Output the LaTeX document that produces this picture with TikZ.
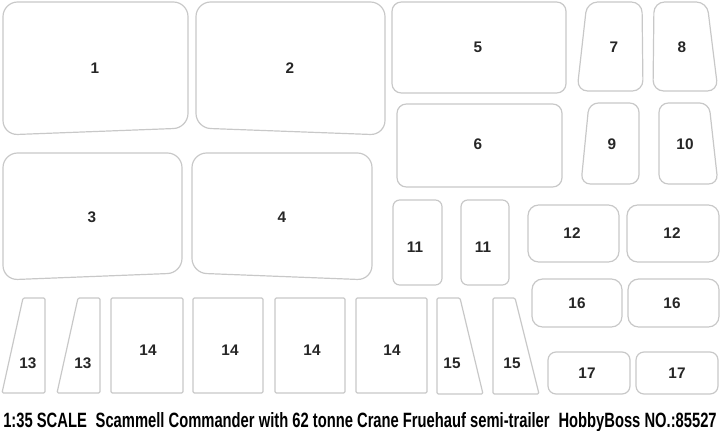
\documentclass[tikz,border=0pt]{standalone}
\usepackage{fontspec}
\setmainfont{Liberation Sans}
\usepackage{graphicx}
\usepackage{tikz}
\definecolor{maskgray}{RGB}{200,200,200}

\begin{document}
\begin{tikzpicture}[x=0.75pt,y=0.75pt,yscale=-1,xscale=1,
    mask/.style={draw=maskgray, line width=0.9pt, line join=round},
    num/.style={inner sep=0.75pt, font=\fontsize{11.5}{13}\selectfont\bfseries, text=black!85}]

            \useasboundingbox (0,0) rectangle (720,431);

            % Large masks
            \draw [mask, rounded corners=11pt] (3,2) -- (188,2) -- (188,128) -- (3,135) -- cycle;
            \draw [mask, rounded corners=11pt] (196,2) -- (385,2) -- (385,135) -- (196,128) -- cycle;
            \draw [mask, rounded corners=11pt] (3,153) -- (182,153) -- (182,273) -- (3,280) -- cycle;
            \draw [mask, rounded corners=11pt] (192,153) -- (372,153) -- (372,280) -- (192,273) -- cycle;

            % Right block
            \draw [mask, rounded corners=7pt] (392,2) rectangle (566,93);
            \draw [mask, rounded corners=7pt] (397,104) rectangle (562,187);
            \draw [mask, rounded corners=8pt] (587,2) -- (642,2) -- (643,91) -- (577,91) -- cycle;
            \draw [mask, rounded corners=8pt] (654,2) -- (707,2) -- (718,91) -- (653,91) -- cycle;
            \draw [mask, rounded corners=7pt] (589,103) -- (639,103) -- (639,184) -- (581,184) -- cycle;
            \draw [mask, rounded corners=7pt] (659,103) -- (709,103) -- (718,184) -- (659,184) -- cycle;
            \draw [mask, rounded corners=5pt] (393,200) rectangle (442,285);
            \draw [mask, rounded corners=5pt] (461,200) rectangle (509,285);
            \draw [mask, rounded corners=8pt] (528,205) rectangle (619,262);
            \draw [mask, rounded corners=8pt] (627,205) rectangle (719,262);
            \draw [mask, rounded corners=8pt] (532,279) rectangle (622,327);
            \draw [mask, rounded corners=8pt] (628,279) rectangle (719,327);
            \draw [mask, rounded corners=6pt] (548,352) rectangle (630,394);
            \draw [mask, rounded corners=6pt] (636,352) rectangle (718,394);

            % Bottom row
            \draw [mask, rounded corners=1pt] (23,298) -- (45,298) -- (45,393) -- (2,393) -- cycle;
            \draw [mask, rounded corners=1pt] (78,298) -- (100,298) -- (100,393) -- (57,393) -- cycle;
            \draw [mask, rounded corners=1pt] (111,298) rectangle (183,393);
            \draw [mask, rounded corners=1pt] (193,298) rectangle (263,393);
            \draw [mask, rounded corners=1pt] (275,298) rectangle (345,393);
            \draw [mask, rounded corners=1pt] (356,298) rectangle (427,393);
            \draw [mask, rounded corners=1pt] (437,298) -- (460,298) -- (483,394) -- (437,394) -- cycle;
            \draw [mask, rounded corners=1pt] (493,298) -- (515,298) -- (539,394) -- (493,394) -- cycle;

            % Labels
            \draw (95,68) node (m1) [num] {1};
            \draw (290,68) node (m2) [num] {2};
            \draw (92,217) node (m3) [num] {3};
            \draw (282,217) node (m4) [num] {4};
            \draw (478,47) node (m5) [num] {5};
            \draw (478,144) node (m6) [num] {6};
            \draw (614,47) node (m7) [num] {7};
            \draw (682,47) node (m8) [num] {8};
            \draw (612,144) node (m9) [num] {9};
            \draw (685,144) node (m10) [num] {10};
            \draw (415,247) node (m11a) [num] {11};
            \draw (483,247) node (m11b) [num] {11};
            \draw (572,233) node (m12a) [num] {12};
            \draw (672,233) node (m12b) [num] {12};
            \draw (577,303) node (m16a) [num] {16};
            \draw (672,303) node (m16b) [num] {16};
            \draw (587,373) node (m17a) [num] {17};
            \draw (677,373) node (m17b) [num] {17};
            \draw (28,363) node (m13a) [num] {13};
            \draw (83,363) node (m13b) [num] {13};
            \draw (148,350) node (m14a) [num] {14};
            \draw (230,350) node (m14b) [num] {14};
            \draw (312,350) node (m14c) [num] {14};
            \draw (392,350) node (m14d) [num] {14};
            \draw (452,363) node (m15a) [num] {15};
            \draw (512,363) node (m15b) [num] {15};

            % Title
            \draw (360,427) node (title) [anchor=base, inner sep=0pt]
              {\resizebox{535pt}{11.25pt}{\bfseries 1:35 SCALE\hspace{0.6em}Scammell Commander with 62 tonne Crane Fruehauf semi-trailer\hspace{0.6em}HobbyBoss NO.:85527}};

\end{tikzpicture}
\end{document}
